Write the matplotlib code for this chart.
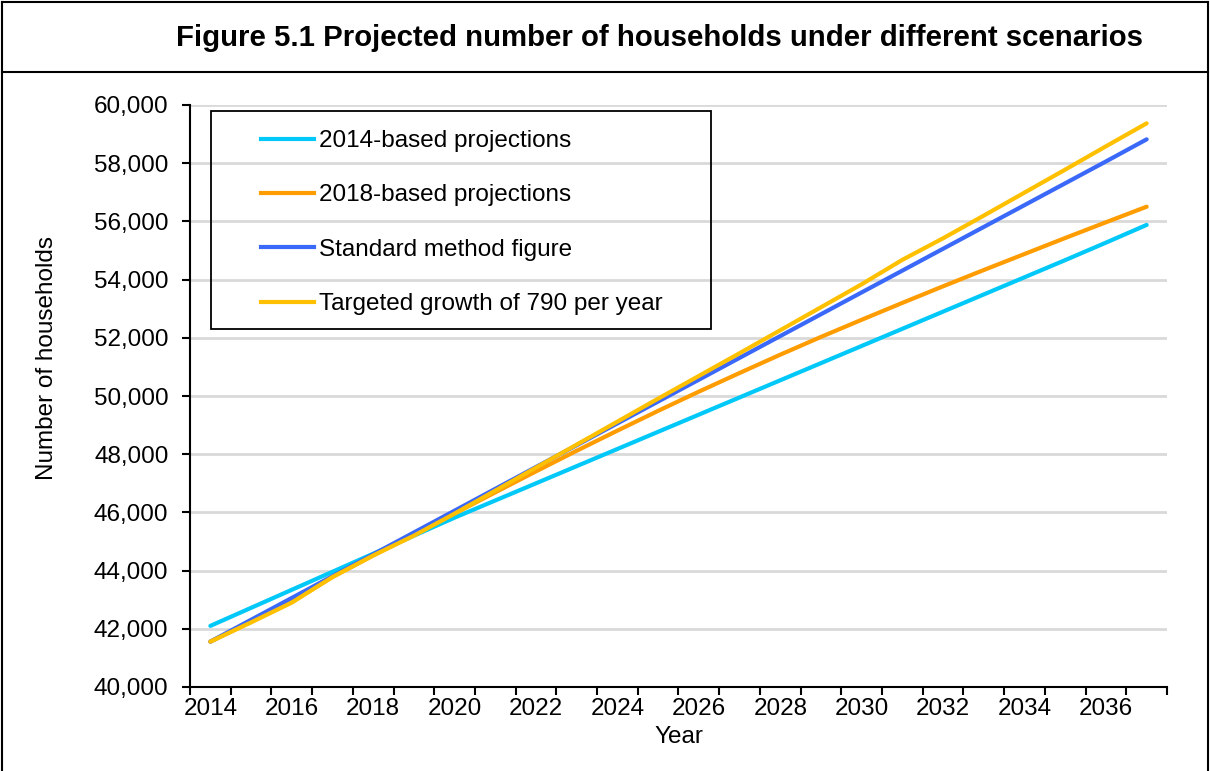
import matplotlib
matplotlib.use("Agg")
import matplotlib.pyplot as plt
from matplotlib.lines import Line2D
from matplotlib.patches import Rectangle

years = list(range(2014, 2038))
proj_2014 = [42100, 42720, 43340, 43960, 44580, 45200, 45820, 46410, 47000, 47590,
             48180, 48770, 49360, 49950, 50540, 51130, 51720, 52310, 52900, 53490,
             54080, 54670, 55270, 55880]
proj_2018 = [41560, 42240, 42920, 43780, 44520, 45230, 45960, 46690, 47410, 48120,
             48810, 49490, 50150, 50790, 51420, 52030, 52620, 53200, 53770, 54330,
             54880, 55430, 55970, 56505]
standard = [41560, 42310, 43060, 43810, 44560, 45310, 46060, 46810, 47560, 48310,
            49060, 49810, 50560, 51310, 52060, 52810, 53560, 54310, 55060, 55810,
            56560, 57310, 58060, 58820]
targeted = [41560, 42220, 42900, 43780, 44520, 45200, 45960, 46750, 47540, 48330,
            49120, 49910, 50690, 51470, 52260, 53050, 53840, 54680, 55420, 56200,
            56990, 57780, 58580, 59370]

series_names = ["2014-based projections", "2018-based projections",
                "Standard method figure", "Targeted growth of 790 per year"]
colors = ["#00C8F8", "#FF9C00", "#3A68F8", "#FFC000"]

title = "Figure 5.1 Projected number of households under different scenarios"
xlabel = "Year"
ylabel = "Number of households"
yticks = list(range(40000, 60001, 2000))

plt.rcParams['font.family'] = ['Liberation Sans', 'DejaVu Sans']
FS = 17.5

W, H = 1210, 771
fig = plt.figure(figsize=(W / 100, H / 100), dpi=100)
ax = fig.add_axes([190 / W, 1 - 687 / H, (1167 - 190) / W, (687 - 105) / H])

xs = list(range(len(years)))
data = [proj_2014, proj_2018, standard, targeted]
for vals, c in zip(data, colors):
    ax.plot(xs, vals, color=c, lw=3.0, solid_capstyle='round', zorder=3)

ax.set_xlim(-0.5, len(years) - 0.5)
ax.set_ylim(40000, 60000)
ax.set_yticks(yticks)
ax.set_yticklabels([f"{v:,}" for v in yticks], fontsize=FS)
ax.yaxis.grid(True, color="#D9D9D9", lw=2.0, zorder=0)
ax.set_axisbelow(True)

# category boundaries as tick marks, labels at every second category center
ax.set_xticks([i - 0.5 for i in range(len(years) + 1)])
ax.set_xticklabels([])
ax.set_xticks(xs[::2], minor=True)
ax.set_xticklabels([str(y) for y in years[::2]], minor=True, fontsize=FS)
ax.tick_params(axis='x', which='minor', length=0, pad=8)
ax.tick_params(axis='x', which='major', length=6, width=1.5, direction='out')
ax.tick_params(axis='y', length=5.5, width=1.5, direction='out', pad=10)

for s in ['top', 'right']:
    ax.spines[s].set_visible(False)
for s in ['left', 'bottom']:
    ax.spines[s].set_linewidth(1.5)
    ax.spines[s].set_color('black')

ax.set_xlabel(xlabel, fontsize=FS)
ax.set_ylabel(ylabel, fontsize=FS)
ax.xaxis.set_label_coords(0.5, -(726 - 687) / 582)
ax.yaxis.set_label_coords((58 - 190) / 977, (687 - 358) / 582)

# legend
handles = [Line2D([0], [0], color=c, lw=3.0) for c in colors]
leg = ax.legend(handles, series_names, loc='upper left',
                bbox_to_anchor=(261 / W, 1 - 130 / H), bbox_transform=fig.transFigure,
                frameon=False, fontsize=FS, handlelength=2.18, handletextpad=0.2,
                labelspacing=1.33, borderpad=0, borderaxespad=0)
fig.patches.append(Rectangle((211 / W, 1 - 329 / H), 500 / W, 218 / H,
                             transform=fig.transFigure, fill=False,
                             edgecolor='black', lw=1.3, zorder=5))

# title and outer frame
fig.text(660 / W, 1 - 38 / H, title, ha='center', va='center',
         fontsize=21.2, fontweight='bold')
for (x0, y0, x1, y1) in [(2, 2, 1208, 2), (2, 2, 2, 771), (1208, 2, 1208, 771),
                         (2, 72, 1208, 72)]:
    fig.add_artist(Line2D([x0 / W, x1 / W], [1 - y0 / H, 1 - y1 / H],
                          transform=fig.transFigure, color='black', lw=1.5))

fig.savefig("out.png", dpi=100)
